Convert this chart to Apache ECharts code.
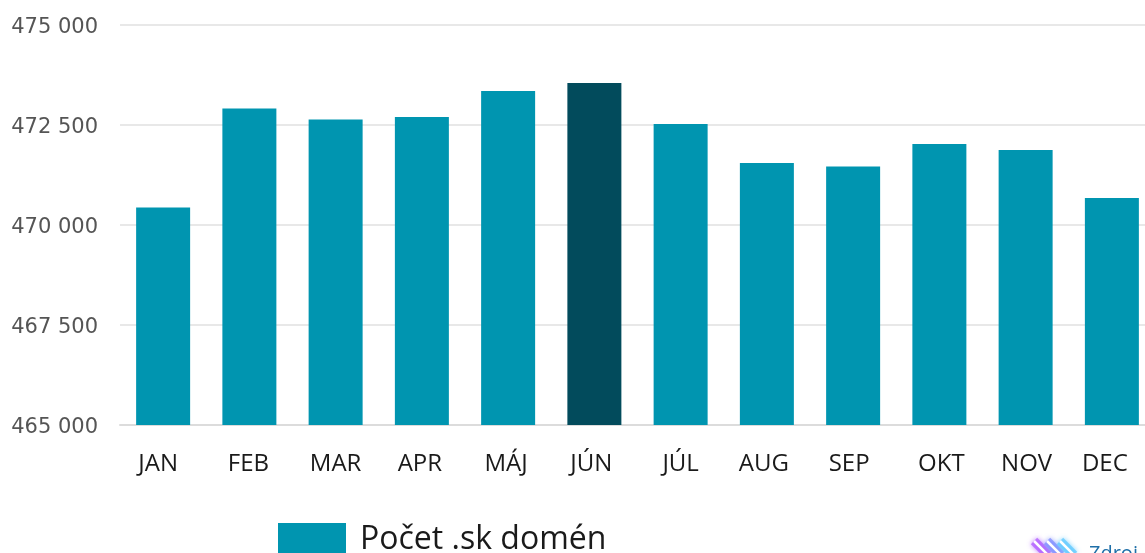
<!DOCTYPE html>
<html><head><meta charset="utf-8">
<style>html,body{margin:0;padding:0;background:#fff;overflow:hidden;width:1145px;height:553px}#c{width:1155px;height:553px}</style>
<script src="https://cdn.jsdelivr.net/npm/echarts@6/dist/echarts.min.js"></script>
</head><body><div id="c"></div>
<script>
const categories = ['JAN','FEB','MAR','APR','MÁJ','JÚN','JÚL','AUG','SEP','OKT','NOV','DEC'];
const domainCounts = [470440,472910,472640,472700,473350,473550,472525,471550,471460,472025,471875,470675];
const seriesName = 'Počet .sk domén';
const highlightMonth = 'JÚN';
const labelNudge = [-5,-1,0,-2,-2,-3,0,-3,-4,2,1,-7];
const rich = {};
labelNudge.forEach((n,i)=>{ rich['m'+i] = {
  fontFamily:'Open Sans', fontSize:24, color:'#1a1a1a',
  padding: n<0 ? [0,-2*n,0,0] : [0,0,0,2*n]
};});
const logoColors = ['#b05cff','#7f8cff','#5fc8ff'];
const logo = [];
logoColors.forEach((c,i)=>{
  const x = 1034 + i*13;
  logo.push({type:'line',shape:{x1:x,y1:541,x2:x+14,y2:555},style:{stroke:c,lineWidth:9,opacity:0.75,shadowBlur:5,shadowColor:c}});
});
logoColors.forEach((c,i)=>{
  const x = 1034 + i*13;
  logo.push({type:'line',shape:{x1:x,y1:541,x2:x+14,y2:555},style:{stroke:'#fff',lineWidth:2.5}});
});
const chart = echarts.init(document.getElementById('c'), null, {renderer:'canvas'});
chart.setOption({
  animation:false,
  backgroundColor:'#fff',
  grid:{left:120,top:25,right:0,bottom:128,containLabel:false},
  legend:{show:true,left:278,top:523,padding:0,itemWidth:68,itemHeight:34,itemGap:10,
    icon:'rect',
    data:[seriesName],
    formatter:'{t|{name}}',
    textStyle:{rich:{t:{fontFamily:'Open Sans',fontSize:32,color:'#1a1a1a',padding:[0,0,0,9]}}}},
  xAxis:{type:'category',data:categories,
    axisTick:{show:false},
    axisLine:{show:true,lineStyle:{color:'#dcdcdc',width:2}},
    axisLabel:{margin:27,interval:0,
      formatter:(v,i)=>'{m'+i+'|'+v+'}',rich}},
  yAxis:{type:'value',min:465000,max:475000,interval:2500,
    axisLine:{show:false},axisTick:{show:false},
    splitLine:{lineStyle:{color:'#e8e8e8',width:2}},
    axisLabel:{margin:22,
      formatter:v=>'{v|'+String(v).replace(/\B(?=(\d{3})+$)/g,' ')+'}',
      rich:{v:{fontFamily:'DejaVu Sans',fontSize:21,color:'#555',padding:[5,0,0,0]}}}},
  series:[{name:seriesName,type:'bar',barWidth:54,
    itemStyle:{color:'#0095b0'},
    data:domainCounts.map((v,i)=>categories[i]===highlightMonth
      ?{value:v,itemStyle:{color:'#024b5c'}}:v)}],
  graphic:[
    ...logo,
    {type:'text',left:1089,top:544,style:{text:'Zdroj',fontFamily:'Open Sans',fontSize:20,fill:'#1f6fa8'}}
  ]
});
</script></body></html>
